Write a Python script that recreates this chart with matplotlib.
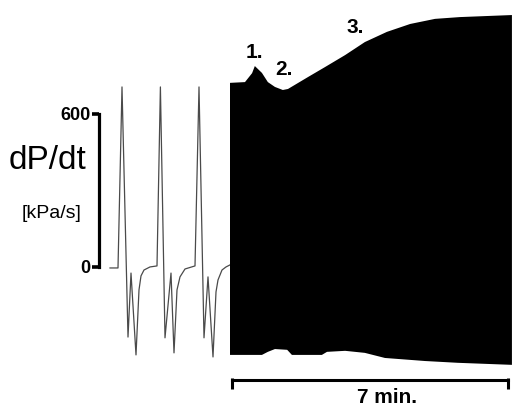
import matplotlib
matplotlib.use("Agg")
import matplotlib.pyplot as plt

# single beats, time in ms, dP/dt in kPa/s
beat_t = [0, 40, 60, 90, 105, 130, 145, 155, 170, 200, 235, 252,
          275, 305, 320, 335, 350, 375, 425, 445,
          470, 490, 515, 530, 540, 560, 580, 600]
beat_v = [-4, -4, 706, -275, -24, -345, -90, -35, -12, 0, 4, 706,
          -278, -24, -337, -90, -39, -8, 4, 706,
          -278, -39, -353, -98, -51, -12, 0, 8]

# compressed recording, time in min
upper_t = [0.0, 0.38, 0.56, 0.63, 0.81, 0.96, 1.14, 1.34, 1.47, 1.98, 2.41,
           2.92, 3.42, 3.98, 4.57, 5.2, 5.83, 7.15]
upper_v = [722, 725, 760, 788, 761, 725, 706, 694, 698, 745, 784,
           831, 882, 922, 953, 973, 980, 988]
lower_t = [0.0, 0.81, 0.96, 1.14, 1.45, 1.57, 2.33, 2.46, 2.92, 3.42, 3.93,
           4.95, 5.78, 7.15]
lower_v = [-345, -345, -333, -322, -325, -345, -345, -333, -329, -337, -357,
           -369, -376, -384]

y_ticks = [0, 600]
bar_span = [0.05, 7.05]
marks = ["1.", "2.", "3."]
marks_t = [0.63, 1.37, 3.17]
marks_v = [843, 773, 941]

plt.rcParams["font.family"] = ["Liberation Sans", "DejaVu Sans"]

ylim = (-565, 1047)
fig = plt.figure(figsize=(5.13, 4.11), dpi=100)

ax = fig.add_axes([0, 0, 230 / 513, 1])
ax.plot(beat_t, beat_v, color="#4a4a4a", lw=0.9)
ax.set_xlim(-550, 600)
ax.set_ylim(*ylim)
for s in ["top", "right", "bottom"]:
    ax.spines[s].set_visible(False)
ax.spines["left"].set_position(("data", -57))
ax.spines["left"].set_bounds(0, 600)
ax.spines["left"].set_linewidth(2.3)
ax.set_yticks(y_ticks)
ax.set_yticklabels([str(v) for v in y_ticks], fontsize=13, fontweight="bold")
ax.tick_params(axis="y", length=5, width=2.6, pad=1)
ax.set_xticks([])
ax.patch.set_alpha(0)
ax.text(-315, 418, "dP/dt", fontsize=24, ha="center", va="center")
ax.text(-290, 208, "[kPa/s]", fontsize=14, ha="center", va="center")

ax2 = fig.add_axes([230 / 513, 0, 283 / 513, 1])
ax2.fill(upper_t + lower_t[::-1], upper_v + lower_v[::-1], color="black", lw=0)
ax2.set_xlim(0, 283 / 39.43)
ax2.set_ylim(*ylim)
ax2.axis("off")
ax2.plot(bar_span, [-443, -443], color="black", lw=2.2, clip_on=False)
ax2.vlines(bar_span, -478, -436, color="black", lw=2.2, clip_on=False)
ax2.text(3.98, -512, "7 min.", fontsize=15, fontweight="bold", ha="center", va="center")
for m, t, v in zip(marks, marks_t, marks_v):
    ax2.text(t, v, m, fontsize=15, fontweight="bold", ha="center", va="center")

fig.savefig("out.png", dpi=100)
